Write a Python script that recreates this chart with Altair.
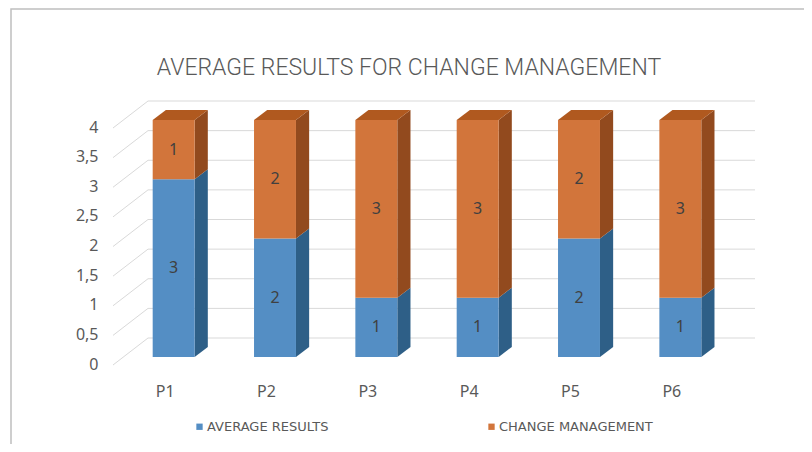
import altair as alt
import pandas as pd

title_text = "AVERAGE RESULTS FOR CHANGE MANAGEMENT"
categories = ["P1", "P2", "P3", "P4", "P5", "P6"]
series = ["AVERAGE RESULTS", "CHANGE MANAGEMENT"]
avg_results = [3, 2, 1, 1, 2, 1]
change_mgmt = [1, 2, 3, 3, 2, 3]
y_ticks = [0, 0.5, 1, 1.5, 2, 2.5, 3, 3.5, 4]

front_colors = ["#548EC4", "#D2753B"]
side_colors = ["#2E5F87", "#924A1E"]
top_colors = ["#3D72A3", "#B0591F"]

HW = 0.207   # half bar width (band units)
DX = 0.13    # depth in x (band units)
DY = 0.17    # depth in y (value units)

seg_rows, side_rows, top_rows = [], [], []
sid = 0
for i, cat in enumerate(categories):
    base = 0
    for s, vals in zip(series, [avg_results, change_mgmt]):
        v = vals[i]
        xl, xr, xc = i + 0.5 - HW, i + 0.5 + HW, i + 0.5
        seg_rows.append(dict(cat=cat, series=s, xl=xl, xr=xr, xc=xc,
                             y0=base, y1=base + v, ym=base + v / 2, value=v))
        side_rows.append(dict(id=sid, series=s, x=xr, top=base + v, bot=base))
        side_rows.append(dict(id=sid, series=s, x=xr + DX, top=base + v + DY, bot=base + DY))
        sid += 1
        base += v
    top_rows.append(dict(id=i, series=series[-1], y=base, xa=i + 0.5 - HW, xb=i + 0.5 + HW))
    top_rows.append(dict(id=i, series=series[-1], y=base + DY, xa=i + 0.5 - HW + DX, xb=i + 0.5 + HW + DX))

seg = pd.DataFrame(seg_rows)
side = pd.DataFrame(side_rows)
top = pd.DataFrame(top_rows)
ticks = pd.DataFrame({"v": y_ticks})

xscale = alt.Scale(domain=[0, 6], nice=False, zero=False)
yscale = alt.Scale(domain=[0, 4], nice=False, zero=False)
GRID = "#D9D9D9"
LABEL_FONT = "Noto Sans"

label_arr = "[" + ",".join("'%s'" % c for c in categories) + "]"

x_axis = alt.Axis(values=[i + 0.5 for i in range(len(categories))],
                  labelExpr=label_arr + "[floor(datum.value)]",
                  grid=False, ticks=False, domain=False, labelPadding=26,
                  labelOffset=-9, labelFontSize=16, labelFont=LABEL_FONT,
                  labelColor="#595959", title=None)
y_axis = alt.Axis(values=y_ticks,
                  labelExpr="replace(format(datum.value, '~g'), '.', ',')",
                  grid=False, ticks=False, domain=False, labelPadding=25,
                  labelOffset=7, labelFontSize=16, labelFont=LABEL_FONT,
                  labelColor="#595959", title=None)


def X(field):
    return alt.X(field, scale=xscale, axis=x_axis, title=None)


def Y(field):
    return alt.Y(field, scale=yscale, axis=y_axis, title=None)


frame = alt.Chart(pd.DataFrame({"a": [0]})).mark_rect(
    filled=False, stroke="#BFBFBF", strokeWidth=1.5
).encode(x=alt.value(-112), x2=alt.value(720), y=alt.value(-111), y2=alt.value(345))

title = alt.Chart(pd.DataFrame({"t": [title_text]})).mark_text(
    font="Roboto", fontSize=23, fontWeight=300, color="#595959",
    align="center", baseline="middle"
).encode(text="t:N", x=alt.value(286), y=alt.value(-52))

back_grid = alt.Chart(ticks).mark_rule(color=GRID, strokeWidth=1, yOffset=-19).encode(
    y=Y("v:Q"),
    x=alt.value(25), x2=alt.value(632),
)
diag_grid = alt.Chart(ticks).mark_rule(color=GRID, strokeWidth=1, yOffset=8, y2Offset=-19).encode(
    y=Y("v:Q"),
    y2=alt.Y2("v"),
    x=alt.value(-10), x2=alt.value(25),
)

front = alt.Chart(seg).mark_bar(stroke=None).encode(
    x=X("xl:Q"),
    x2="xr:Q",
    y=Y("y0:Q"),
    y2="y1:Q",
    color=alt.Color("series:N", scale=alt.Scale(domain=series, range=front_colors),
                    legend=alt.Legend(orient="none", legendX=70, legendY=300,
                                      direction="horizontal", title=None,
                                      symbolType="square", symbolSize=40,
                                      symbolStrokeWidth=0, labelFontSize=13,
                                      labelFont="DejaVu Sans", labelColor="#595959",
                                      labelOffset=1, columnPadding=156, padding=0)),
)

sides = alt.Chart(side).mark_area(orient="vertical").encode(
    x=X("x:Q"),
    y=Y("top:Q"),
    y2="bot:Q",
    detail="id:N",
    color=alt.Color("series:N", scale=alt.Scale(domain=series, range=side_colors), legend=None),
)

tops = alt.Chart(top).mark_area(orient="horizontal").encode(
    y=Y("y:Q"),
    x=X("xa:Q"),
    x2="xb:Q",
    detail="id:N",
    color=alt.Color("series:N", scale=alt.Scale(domain=series, range=top_colors), legend=None),
)

labels = alt.Chart(seg).mark_text(fontSize=16, color="#404040", font=LABEL_FONT,
                                  baseline="middle").encode(
    x=X("xc:Q"),
    y=Y("ym:Q"),
    text="value:Q",
)

chart = alt.layer(frame, title, back_grid, diag_grid, sides, tops, front, labels).resolve_scale(
    color="independent"
).properties(
    width=608, height=237,
    autosize=alt.AutoSizeParams(type="none"),
    padding={"left": 115, "top": 112, "right": 73, "bottom": 87},
    background="white",
).configure_view(stroke=None)

chart.save("out.html", embed_options={"renderer": "svg", "actions": False})
